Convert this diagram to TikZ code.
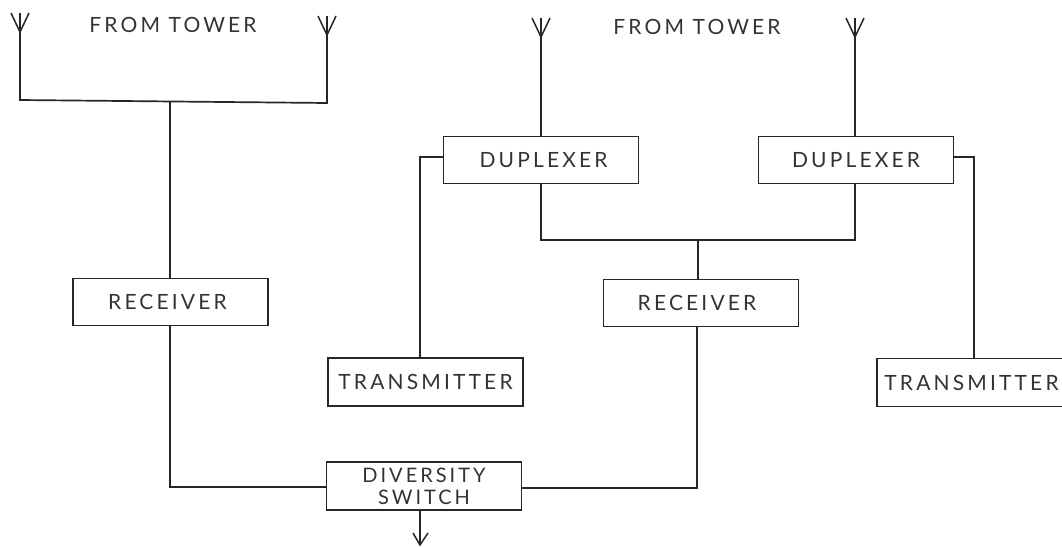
\documentclass[tikz,border=0pt]{standalone}
\usepackage{fontspec}
\setmainfont[LetterSpace=15]{Lato}
\tikzset{
  wire/.style={draw=black!85, line width=1.7pt, line join=miter},
  blockbox/.style={draw=black!85, line width=1.8pt, inner sep=0pt, minimum width=195pt, minimum height=47pt, align=center, text=black!80, font=\fontsize{21}{22}\selectfont},
  caption/.style={text=black!80, inner sep=0pt, font=\fontsize{21}{22}\selectfont},
  mast/.style={wire, line width=1.5pt}
}
\begin{document}
\begin{tikzpicture}[x=1pt,y=-1pt]
\useasboundingbox (0,0) rectangle (1062,546);
\node[blockbox] (rxl) at (170.5,302) {\hspace*{-6pt}RECEIVER};
\node[blockbox] (dxl) at (541,160) {\hspace*{5pt}DUPLEXER};
\node[blockbox] (dxr) at (856,160) {DUPLEXER};
\node[blockbox] (rxr) at (701,303) {\hspace*{-8pt}RECEIVER};
\node[blockbox, minimum height=48pt] (txl) at (425.5,382) {TRANSMITTER};
\node[blockbox, minimum height=48pt] (txr) at (974.5,382.5) {\hspace*{-6pt}TRANSMITTER};
\node[blockbox, minimum height=48pt, font=\fontsize{20}{22}\selectfont] (div) at (424,486) {DIVERSITY\\SWITCH};
\node[caption] (capl) at (173,25) {FROM TOWER};
\node[caption] (capr) at (697,27) {FROM TOWER};
% antennas
\coordinate (al) at (20,100); \coordinate (alt) at (20,13);
\coordinate (ar) at (327,103); \coordinate (art) at (327,16);
\coordinate (bl) at (541,137); \coordinate (blt) at (541,18);
\coordinate (br) at (855,137); \coordinate (brt) at (855,18);
\foreach \t in {alt,art,blt,brt}{
  \draw[mast] (\t) ++(-9,0) -- ++(9,19) -- ++(9,-19);
}
\draw[wire] (alt) -- (al) -- (ar) -- (art);
\draw[mast] (blt) -- (bl);
\draw[mast] (brt) -- (br);
\draw[wire] (170,101.5) -- (rxl.north -| 170,0);
% duplexers to receiver
\coordinate (jr) at (698,240);
\draw[wire] (541,183.5) -- (541,240) -- (855,240) -- (855,183.5);
\draw[wire] (jr) -- (jr |- rxr.north);
% duplexers to transmitters
\coordinate (tl) at (420,157);
\coordinate (tr) at (974,157);
\draw[wire] (dxl.west |- tl) -- (tl) -- (tl |- txl.north);
\draw[wire] (dxr.east |- tr) -- (tr) -- (tr |- txr.north);
% receivers to switch
\coordinate (sl) at (170,487);
\coordinate (sr) at (697,488);
\draw[wire] (sl |- rxl.south) -- (sl) -- (div.west |- sl);
\draw[wire] (sr |- rxr.south) -- (sr) -- (div.east |- sr);
% output arrow
\coordinate (out) at (420,545);
\draw[wire] (out |- div.south) -- (out);
\draw[mast] (413,533) -- (out) -- (428,533);
\end{tikzpicture}
\end{document}
